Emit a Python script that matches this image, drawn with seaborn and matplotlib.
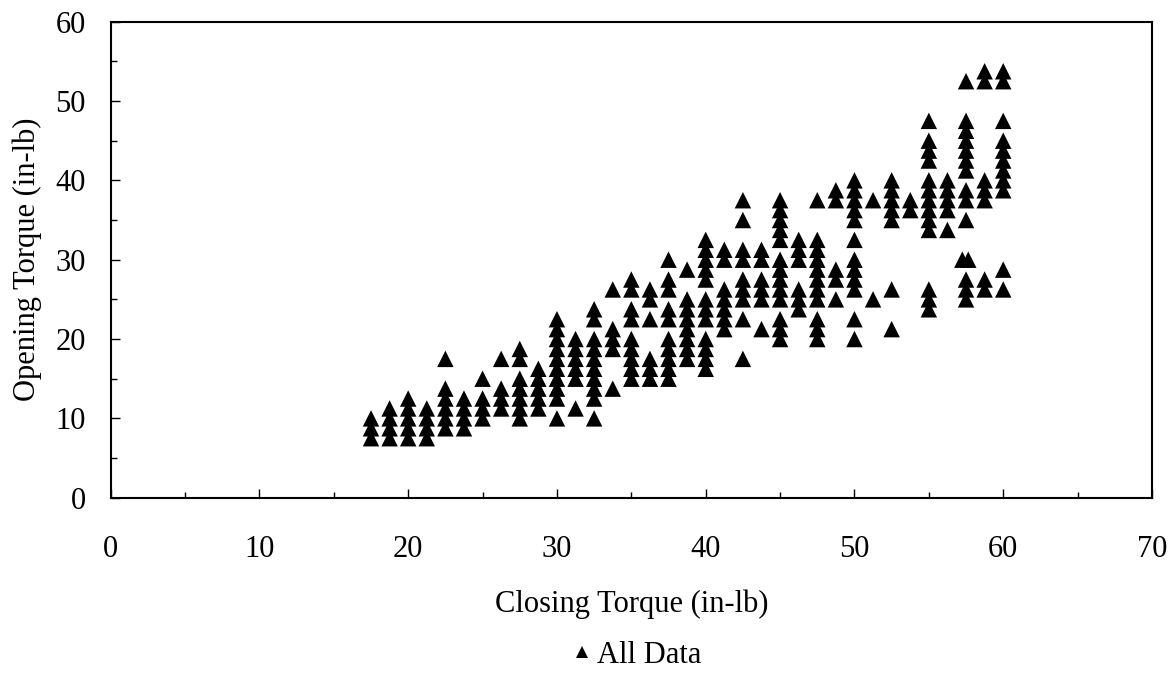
import matplotlib
matplotlib.use("Agg")
import matplotlib.pyplot as plt
from matplotlib.ticker import MultipleLocator
import seaborn as sns
import pandas as pd

# Closing torque (x) for each point, grouped by column
closing_torque = (
    [17.5, 17.5, 17.5]
    + [18.75, 18.75, 18.75, 18.75]
    + [20, 20, 20, 20, 20]
    + [21.25, 21.25, 21.25, 21.25]
    + [22.5, 22.5, 22.5, 22.5, 22.5, 22.5]
    + [23.75, 23.75, 23.75, 23.75]
    + [25, 25, 25, 25]
    + [26.25, 26.25, 26.25, 26.25]
    + [27.5, 27.5, 27.5, 27.5, 27.5, 27.5, 27.5]
    + [28.75, 28.75, 28.75, 28.75, 28.75]
    + [30, 30, 30, 30, 30, 30, 30, 30, 30, 30]
    + [31.25, 31.25, 31.25, 31.25, 31.25, 31.25]
    + [32.5, 32.5, 32.5, 32.5, 32.5, 32.5, 32.5, 32.5, 32.5, 32.5]
    + [33.75, 33.75, 33.75, 33.75, 33.75]
    + [35, 35, 35, 35, 35, 35, 35, 35, 35]
    + [36.25, 36.25, 36.25, 36.25, 36.25, 36.25]
    + [37.5, 37.5, 37.5, 37.5, 37.5, 37.5, 37.5, 37.5, 37.5, 37.5]
    + [38.75, 38.75, 38.75, 38.75, 38.75, 38.75, 38.75, 38.75]
    + [40, 40, 40, 40, 40, 40, 40, 40, 40, 40, 40, 40]
    + [41.25, 41.25, 41.25, 41.25, 41.25, 41.25, 41.25]
    + [42.5, 42.5, 42.5, 42.5, 42.5, 42.5, 42.5, 42.5, 42.5]
    + [43.75, 43.75, 43.75, 43.75, 43.75, 43.75]
    + [45, 45, 45, 45, 45, 45, 45, 45, 45, 45, 45, 45, 45]
    + [46.25, 46.25, 46.25, 46.25, 46.25, 46.25]
    + [47.5, 47.5, 47.5, 47.5, 47.5, 47.5, 47.5, 47.5, 47.5, 47.5, 47.5]
    + [48.75, 48.75, 48.75, 48.75, 48.75]
    + [50, 50, 50, 50, 50, 50, 50, 50, 50, 50, 50, 50]
    + [51.25, 51.25]
    + [52.5, 52.5, 52.5, 52.5, 52.5, 52.5, 52.5]
    + [53.75, 53.75]
    + [55, 55, 55, 55, 55, 55, 55, 55, 55, 55, 55, 55, 55]
    + [56.25, 56.25, 56.25, 56.25, 56.25]
    + [57.5, 57.5, 57.5, 57.25, 57.65, 57.5, 57.5, 57.5, 57.5, 57.5, 57.5, 57.5, 57.5, 57.5, 57.5]
    + [58.75, 58.75, 58.75, 58.75, 58.75, 58.75, 58.75]
    + [60, 60, 60, 60, 60, 60, 60, 60, 60, 60, 60]
)

# Opening torque (y) for each point, same order
opening_torque = (
    [7.5, 8.75, 10]
    + [7.5, 8.75, 10, 11.25]
    + [7.5, 8.75, 10, 11.25, 12.5]
    + [7.5, 8.75, 10, 11.25]
    + [8.75, 10, 11.25, 12.5, 13.75, 17.5]
    + [8.75, 10, 11.25, 12.5]
    + [10, 11.25, 12.5, 15]
    + [11.25, 12.5, 13.75, 17.5]
    + [10, 11.25, 12.5, 13.75, 15, 17.5, 18.75]
    + [11.25, 12.5, 13.75, 15, 16.25]
    + [10, 12.5, 13.75, 15, 16.25, 17.5, 18.75, 20, 21.25, 22.5]
    + [11.25, 15, 16.25, 17.5, 18.75, 20]
    + [10, 12.5, 13.75, 15, 16.25, 17.5, 18.75, 20, 22.5, 23.75]
    + [13.75, 18.75, 20, 21.25, 26.25]
    + [15, 16.25, 17.5, 18.75, 20, 22.5, 23.75, 26.25, 27.5]
    + [15, 16.25, 17.5, 22.5, 25, 26.25]
    + [15, 16.25, 17.5, 18.75, 20, 22.5, 23.75, 26.25, 27.5, 30]
    + [17.5, 18.75, 20, 21.25, 22.5, 23.75, 25, 28.75]
    + [16.25, 17.5, 18.75, 20, 22.5, 23.75, 25, 27.5, 28.75, 30, 31.25, 32.5]
    + [21.25, 22.5, 23.75, 25, 26.25, 30, 31.25]
    + [17.5, 22.5, 25, 26.25, 27.5, 30, 31.25, 35, 37.5]
    + [21.25, 25, 26.25, 27.5, 30, 31.25]
    + [20, 21.25, 22.5, 25, 26.25, 27.5, 28.75, 30, 32.5, 33.75, 35, 36.25, 37.5]
    + [23.75, 25, 26.25, 30, 31.25, 32.5]
    + [20, 21.25, 22.5, 25, 26.25, 27.5, 28.75, 30, 31.25, 32.5, 37.5]
    + [25, 27.5, 28.75, 37.5, 38.75]
    + [20, 22.5, 26.25, 27.5, 28.75, 30, 32.5, 35, 36.25, 37.5, 38.75, 40]
    + [25, 37.5]
    + [21.25, 26.25, 35, 36.25, 37.5, 38.75, 40]
    + [36.25, 37.5]
    + [23.75, 25, 26.25, 33.75, 35, 36.25, 37.5, 38.75, 40, 42.5, 43.75, 45, 47.5]
    + [33.75, 36.25, 37.5, 38.75, 40]
    + [25, 26.25, 27.5, 30, 30, 35, 37.5, 38.75, 41.25, 42.5, 43.75, 45, 46.25, 47.5, 52.5]
    + [26.25, 27.5, 37.5, 38.75, 40, 52.5, 53.75]
    + [26.25, 28.75, 38.75, 40, 41.25, 42.5, 43.75, 45, 47.5, 52.5, 53.75]
)

x_ticks = [0, 10, 20, 30, 40, 50, 60, 70]
y_ticks = [0, 10, 20, 30, 40, 50, 60]
series_name = "All Data"
x_title = "Closing Torque (in-lb)"
y_title = "Opening Torque (in-lb)"

df = pd.DataFrame({"closing": closing_torque, "opening": opening_torque,
                   "series": series_name})

sns.set_style("ticks")
plt.rcParams["font.family"] = ["Liberation Serif", "DejaVu Serif"]
plt.rcParams["text.color"] = "black"
plt.rcParams["axes.labelcolor"] = "black"
plt.rcParams["xtick.color"] = "black"
plt.rcParams["ytick.color"] = "black"

fig = plt.figure(figsize=(11.7, 6.91), dpi=100)
ax = fig.add_axes([0.0946, 0.2797, 0.89, 0.6889])

sns.scatterplot(data=df, x="closing", y="opening", hue="series",
                palette=["black"], marker="^", s=140, linewidth=0,
                edgecolor="none", ax=ax, legend=True)

ax.set_xlim(0, 70)
ax.set_ylim(0, 60)
ax.set_xticks(x_ticks)
ax.set_yticks(y_ticks)
ax.xaxis.set_minor_locator(MultipleLocator(5))
ax.yaxis.set_minor_locator(MultipleLocator(5))
ax.tick_params(which="both", direction="in", top=False, right=False,
               color="black", labelcolor="black", width=1.0)
ax.tick_params(which="major", length=6.5)
ax.tick_params(which="minor", length=4.3)
ax.tick_params(axis="y", which="major", pad=18, labelsize=22)
ax.tick_params(axis="x", which="major", pad=27, labelsize=22)
for sp in ax.spines.values():
    sp.set_visible(True)
    sp.set_linewidth(1.5)
    sp.set_color("black")

ax.set_xlabel(x_title, fontsize=22, color="black")
ax.set_ylabel(y_title, fontsize=22, color="black")
ax.xaxis.set_label_coords(0.5, -0.192)
ax.yaxis.set_label_coords(-0.066, 0.5)

handles, labels = ax.get_legend_handles_labels()
ax.get_legend().remove()
leg = fig.legend(handles, labels, loc="center", bbox_to_anchor=(0.543, 0.052),
                 frameon=False, fontsize=22, handletextpad=0.1,
                 markerscale=0.7, handlelength=0.8)
for t in leg.get_texts():
    t.set_color("black")

fig.savefig("out.png", dpi=100, facecolor="white")
